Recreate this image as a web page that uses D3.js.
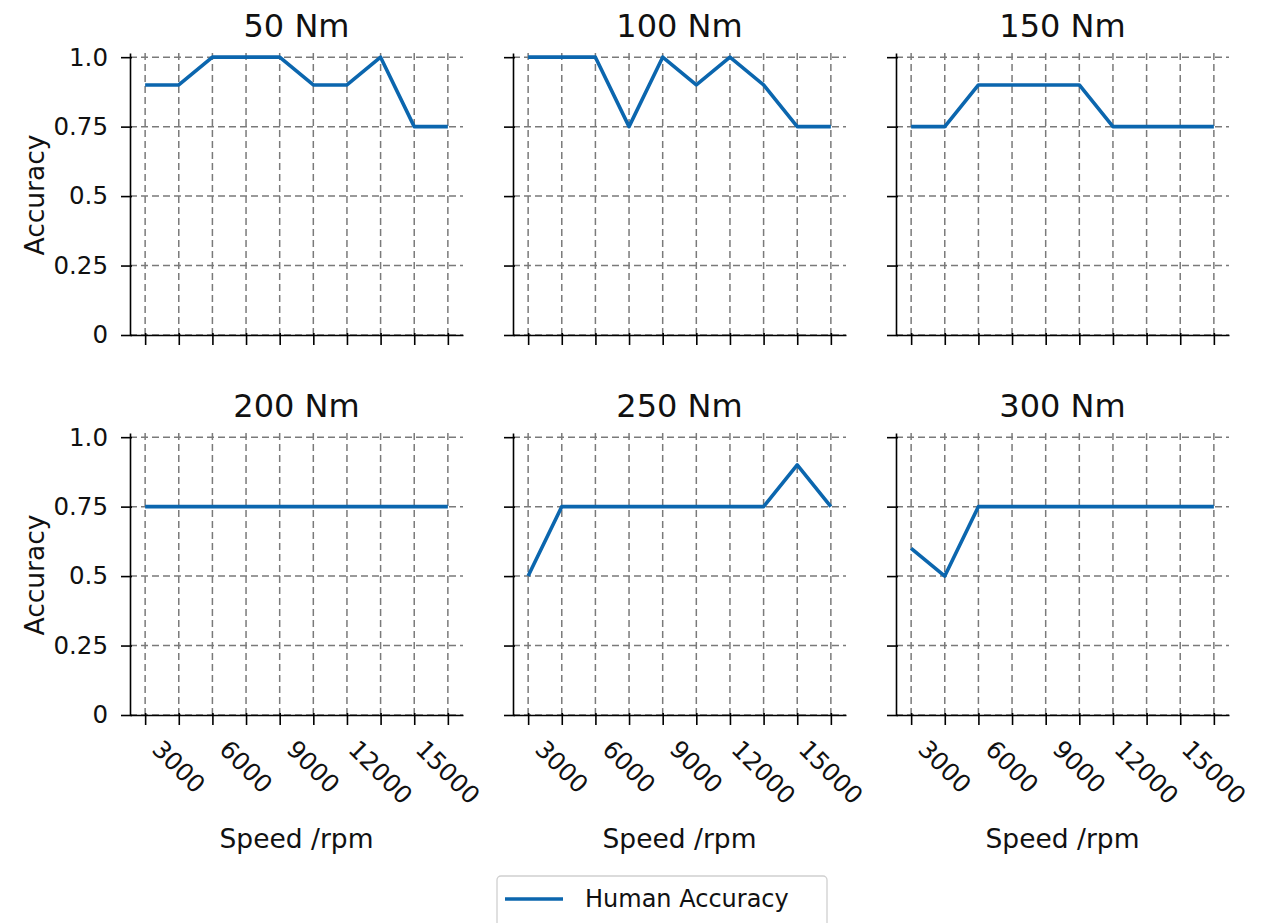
<html>
<head>
<meta charset="utf-8" />
<title>Human Accuracy</title>
<script src="https://d3js.org/d3.v7.min.js"></script>
<style>
  body { margin: 0; background: #fff; }
  text { font-family: "DejaVu Sans", sans-serif; fill: #111; }
</style>
</head>
<body>
<svg class="chart"></svg>
<script>
// speeds (rpm) and tick labels
const speeds = [1500, 3000, 4500, 6000, 7500, 9000, 10500, 12000, 13500, 15000];
const xLabelTicks = [3000, 6000, 9000, 12000, 15000];
const yTicks = [0, 0.25, 0.5, 0.75, 1.0];
const yTickLabels = ["0", "0.25", "0.5", "0.75", "1.0"];
const torques = ["50 Nm", "100 Nm", "150 Nm", "200 Nm", "250 Nm", "300 Nm"];
// human accuracy per torque
const acc50  = [0.9, 0.9, 1, 1, 1, 0.9, 0.9, 1, 0.75, 0.75];
const acc100 = [1, 1, 1, 0.75, 1, 0.9, 1, 0.9, 0.75, 0.75];
const acc150 = [0.75, 0.75, 0.9, 0.9, 0.9, 0.9, 0.75, 0.75, 0.75, 0.75];
const acc200 = [0.75, 0.75, 0.75, 0.75, 0.75, 0.75, 0.75, 0.75, 0.75, 0.75];
const acc250 = [0.5, 0.75, 0.75, 0.75, 0.75, 0.75, 0.75, 0.75, 0.9, 0.75];
const acc300 = [0.6, 0.5, 0.75, 0.75, 0.75, 0.75, 0.75, 0.75, 0.75, 0.75];
const series = [acc50, acc100, acc150, acc200, acc250, acc300];

const W = 1268, H = 923;
const lineColor = "#0b66ae";
const colLeft = [130, 513, 896], axW = 333;
const rowBottom = [335, 715], axH = 282;

const svg = d3.select("svg").attr("width", W).attr("height", H);

series.forEach(function(vals, i) {
  const col = i % 3, row = Math.floor(i / 3);
  const x0 = colLeft[col], y0 = rowBottom[row];
  // matplotlib-like 5% x margin
  const x = d3.scaleLinear().domain([825, 15675]).range([x0, x0 + axW]);
  const y = d3.scaleLinear().domain([0, 1.015]).range([y0, y0 - axH]);
  const g = svg.append("g");

  // grid
  g.selectAll(".vg").data(speeds).enter().append("line")
    .attr("x1", d => x(d)).attr("x2", d => x(d))
    .attr("y1", y(0)).attr("y2", y(1.015))
    .attr("stroke", "#7a7a7a").attr("stroke-width", 1.5).attr("stroke-dasharray", "7,4");
  g.selectAll(".hg").data(yTicks).enter().append("line")
    .attr("x1", x0).attr("x2", x0 + axW)
    .attr("y1", d => y(d)).attr("y2", d => y(d))
    .attr("stroke", "#7a7a7a").attr("stroke-width", 1.5).attr("stroke-dasharray", "7,4");

  // data line
  g.append("path").datum(vals)
    .attr("fill", "none").attr("stroke", lineColor).attr("stroke-width", 3.6)
    .attr("stroke-linejoin", "round")
    .attr("d", d3.line().x((d, k) => x(speeds[k])).y(d => y(d)));

  // axes
  const ya = g.append("g").attr("transform", "translate(" + x0 + ",0)")
    .call(d3.axisLeft(y).tickValues(yTicks).tickSizeOuter(0)
      .tickFormat((d, k) => col === 0 ? yTickLabels[k] : ""));
  const xa = g.append("g").attr("transform", "translate(0," + y0 + ")")
    .call(d3.axisBottom(x).tickValues(speeds).tickSizeOuter(0).tickFormat(""));
  [ya, xa].forEach(a => {
    a.select(".domain").attr("stroke", "#000").attr("stroke-width", 1.6);
    a.selectAll(".tick line").attr("stroke", "#000").attr("stroke-width", 1.6);
  });
  ya.selectAll(".tick line").attr("x1", 2).attr("x2", -9);
  xa.selectAll(".tick line").attr("y1", -2).attr("y2", 10);
  ya.selectAll(".tick text").attr("x", -22).attr("font-size", 24.5)
    .style("font-family", "DejaVu Sans").attr("fill", "#111");

  // x tick labels on bottom row, rotated 45deg clockwise, centred on tick
  if (row === 1) {
    xLabelTicks.forEach(function(v) {
      const t = g.append("text").text(String(v))
        .attr("font-size", 24.5).attr("text-anchor", "middle")
        .attr("dominant-baseline", "central");
      const len = t.node().getComputedTextLength();
      const half = (len + 22) * Math.SQRT1_2 / 2;
      const cx = x(v), cy = y0 + 22 + half;
      t.attr("x", cx).attr("y", cy)
        .attr("transform", "rotate(45," + cx + "," + cy + ")");
    });
    g.append("text").text("Speed /rpm")
      .attr("x", x0 + axW / 2).attr("y", y0 + 133)
      .attr("font-size", 26.5).attr("text-anchor", "middle");
  }
  if (col === 0) {
    g.append("text").text("Accuracy")
      .attr("transform", "translate(" + 44 + "," + (y0 - 140) + ") rotate(-90)")
      .attr("font-size", 26.5).attr("text-anchor", "middle");
  }
  // title
  g.append("text").text(torques[i])
    .attr("x", x0 + axW / 2).attr("y", y0 - axH - 16)
    .attr("font-size", 32).attr("text-anchor", "middle");
});

// legend
const lg = svg.append("g");
lg.append("rect").attr("x", 497).attr("y", 876).attr("width", 330).attr("height", 60)
  .attr("rx", 4).attr("fill", "#fff").attr("stroke", "#d0d0d0").attr("stroke-width", 1.3);
lg.append("line").attr("x1", 505).attr("x2", 563).attr("y1", 899).attr("y2", 899)
  .attr("stroke", lineColor).attr("stroke-width", 3.6);
lg.append("text").text("Human Accuracy").attr("x", 585).attr("y", 899)
  .attr("dominant-baseline", "central").attr("font-size", 24);
</script>
</body>
</html>
